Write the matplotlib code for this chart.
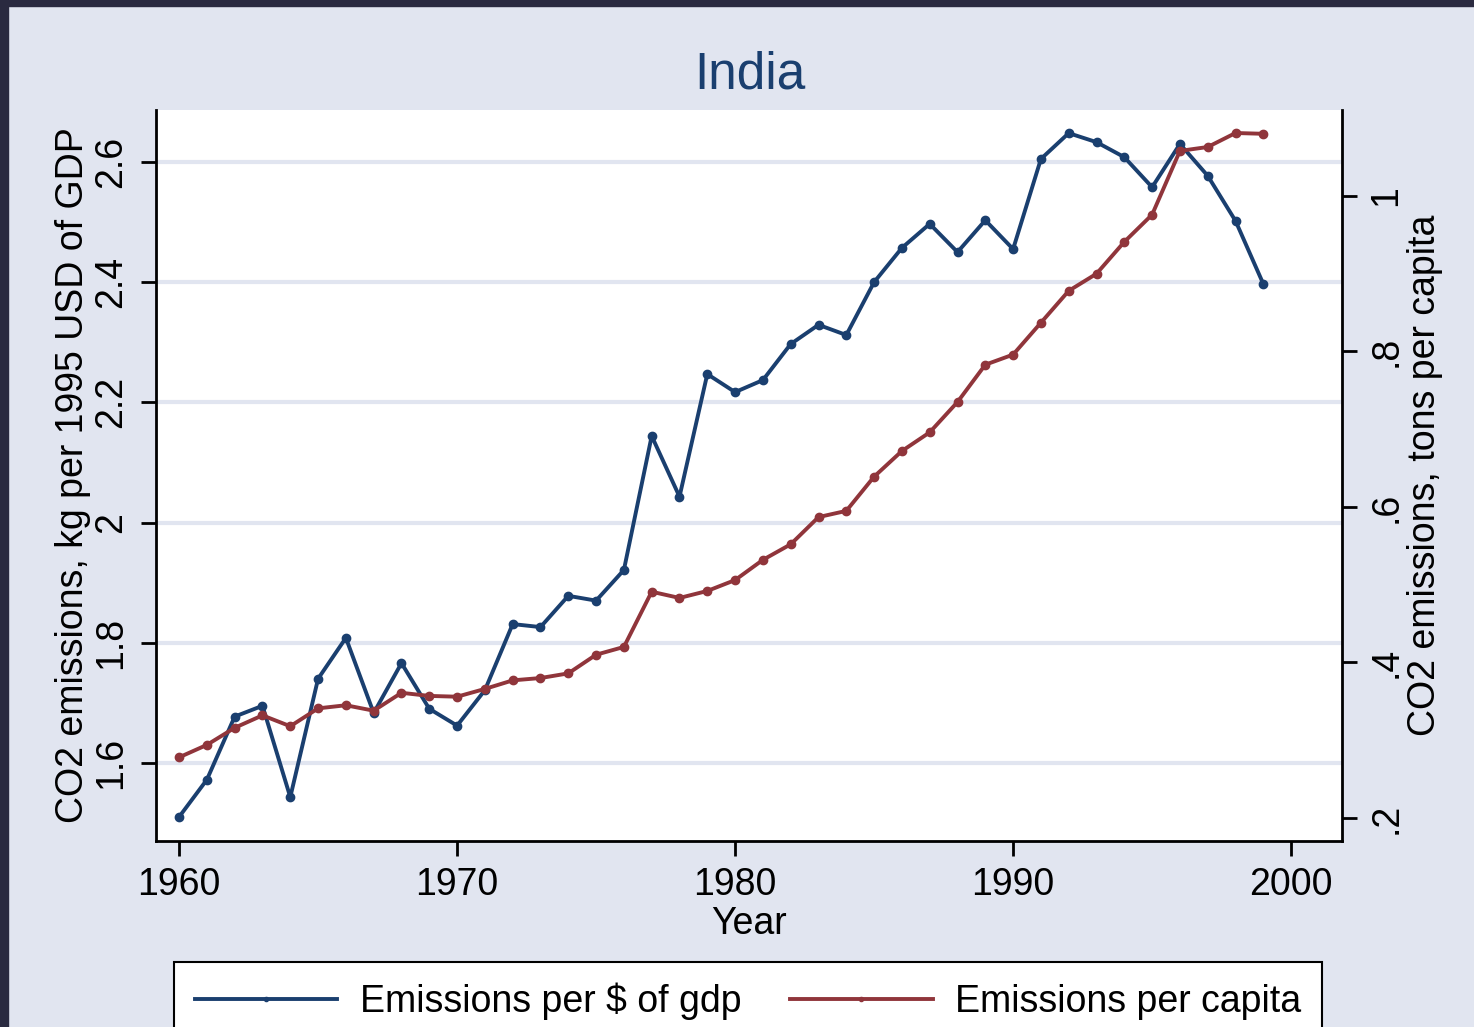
import matplotlib
matplotlib.use('Agg')
import matplotlib.pyplot as plt
from matplotlib.patches import Rectangle

plt.rcParams['font.family'] = ['Liberation Sans', 'DejaVu Sans']

years = list(range(1960, 2000))
per_gdp = [1.510, 1.572, 1.677, 1.695, 1.543, 1.740, 1.808, 1.683, 1.766, 1.690,
           1.662, 1.721, 1.831, 1.826, 1.878, 1.870, 1.921, 2.144, 2.043, 2.247,
           2.217, 2.237, 2.297, 2.329, 2.312, 2.400, 2.457, 2.497, 2.450, 2.503,
           2.455, 2.605, 2.648, 2.633, 2.608, 2.558, 2.630, 2.577, 2.502, 2.397]
per_capita = [0.278, 0.294, 0.316, 0.332, 0.318, 0.341, 0.345, 0.338, 0.361, 0.357,
              0.356, 0.366, 0.377, 0.380, 0.386, 0.410, 0.420, 0.491, 0.483, 0.492,
              0.506, 0.532, 0.552, 0.587, 0.595, 0.639, 0.672, 0.696, 0.735, 0.783,
              0.796, 0.837, 0.878, 0.900, 0.941, 0.976, 1.058, 1.063, 1.081, 1.080]

left_ticks = [1.6, 1.8, 2.0, 2.2, 2.4, 2.6]
left_labels = ['1.6', '1.8', '2', '2.2', '2.4', '2.6']
right_ticks = [0.2, 0.4, 0.6, 0.8, 1.0]
right_labels = ['.2', '.4', '.6', '.8', '1']
x_ticks = [1960, 1970, 1980, 1990, 2000]

bg = '#e1e5f0'
navy = '#1a3f6f'
maroon = '#90353b'
fs = 27

fig = plt.figure(figsize=(14.74, 10.27), dpi=100, facecolor=bg)
# dark frame at top and left
fig.patches.append(Rectangle((0, 1 - 6 / 1027), 1, 6 / 1027, transform=fig.transFigure,
                             color='#2a2a40', zorder=10))
fig.patches.append(Rectangle((0, 0), 8 / 1474, 1, transform=fig.transFigure,
                             color='#2a2a40', zorder=10))

ax = fig.add_axes([156 / 1474, 1 - 841 / 1027, (1342 - 156) / 1474, (841 - 110) / 1027])
ax2 = ax.twinx()

ax.set_xlim(1959.17, 2001.83)
ax.set_ylim(1.470, 2.6865)
ax2.set_ylim(0.1704, 1.1106)

ax.set_yticks(left_ticks)
ax.set_yticklabels(left_labels, rotation=90, va='center')
ax2.set_yticks(right_ticks)
ax2.set_yticklabels(right_labels, rotation=90, va='center')
ax.set_xticks(x_ticks)

for a in (ax, ax2):
    a.spines['top'].set_visible(False)
    for s in a.spines.values():
        s.set_linewidth(2)
    a.tick_params(direction='out', length=11, width=2, labelsize=fs, pad=8)
ax2.spines['left'].set_visible(False)
ax2.spines['bottom'].set_visible(False)
ax.spines['right'].set_visible(False)

ax.grid(axis='y', color=bg, linewidth=3)
ax.set_axisbelow(True)

l1, = ax.plot(years, per_gdp, color=navy, linewidth=2.8, marker='o', markersize=6,
              label='Emissions per $ of gdp')
l2, = ax2.plot(years, per_capita, color=maroon, linewidth=2.8, marker='o', markersize=6,
               label='Emissions per capita')

ax.set_xlabel('Year', fontsize=fs, labelpad=2)
ax.set_ylabel('CO2 emissions, kg per 1995 USD of GDP', fontsize=fs, labelpad=2)
ax2.set_ylabel('CO2 emissions, tons per capita', fontsize=fs, rotation=90, labelpad=2)
ax2.yaxis.set_label_position('right')

fig.text(750 / 1474, 1 - 75 / 1027, 'India', fontsize=37, color=navy, ha='center', va='center')

leg = fig.legend([l1, l2], ['Emissions per $ of gdp', 'Emissions per capita'],
                 loc='upper center', bbox_to_anchor=(748 / 1474, 1 - 962 / 1027),
                 ncol=2, fontsize=fs, frameon=True, fancybox=False, numpoints=1,
                 handlelength=3.8, columnspacing=1.3, borderpad=0.55, borderaxespad=0,
                 handletextpad=0.6, edgecolor='black', facecolor='white', framealpha=1)
leg.get_frame().set_linewidth(1.5)
for h in leg.legend_handles:
    h.set_markersize(3)
    h.set_linewidth(2.8)

fig.savefig('out.png', dpi=100, facecolor=bg)
